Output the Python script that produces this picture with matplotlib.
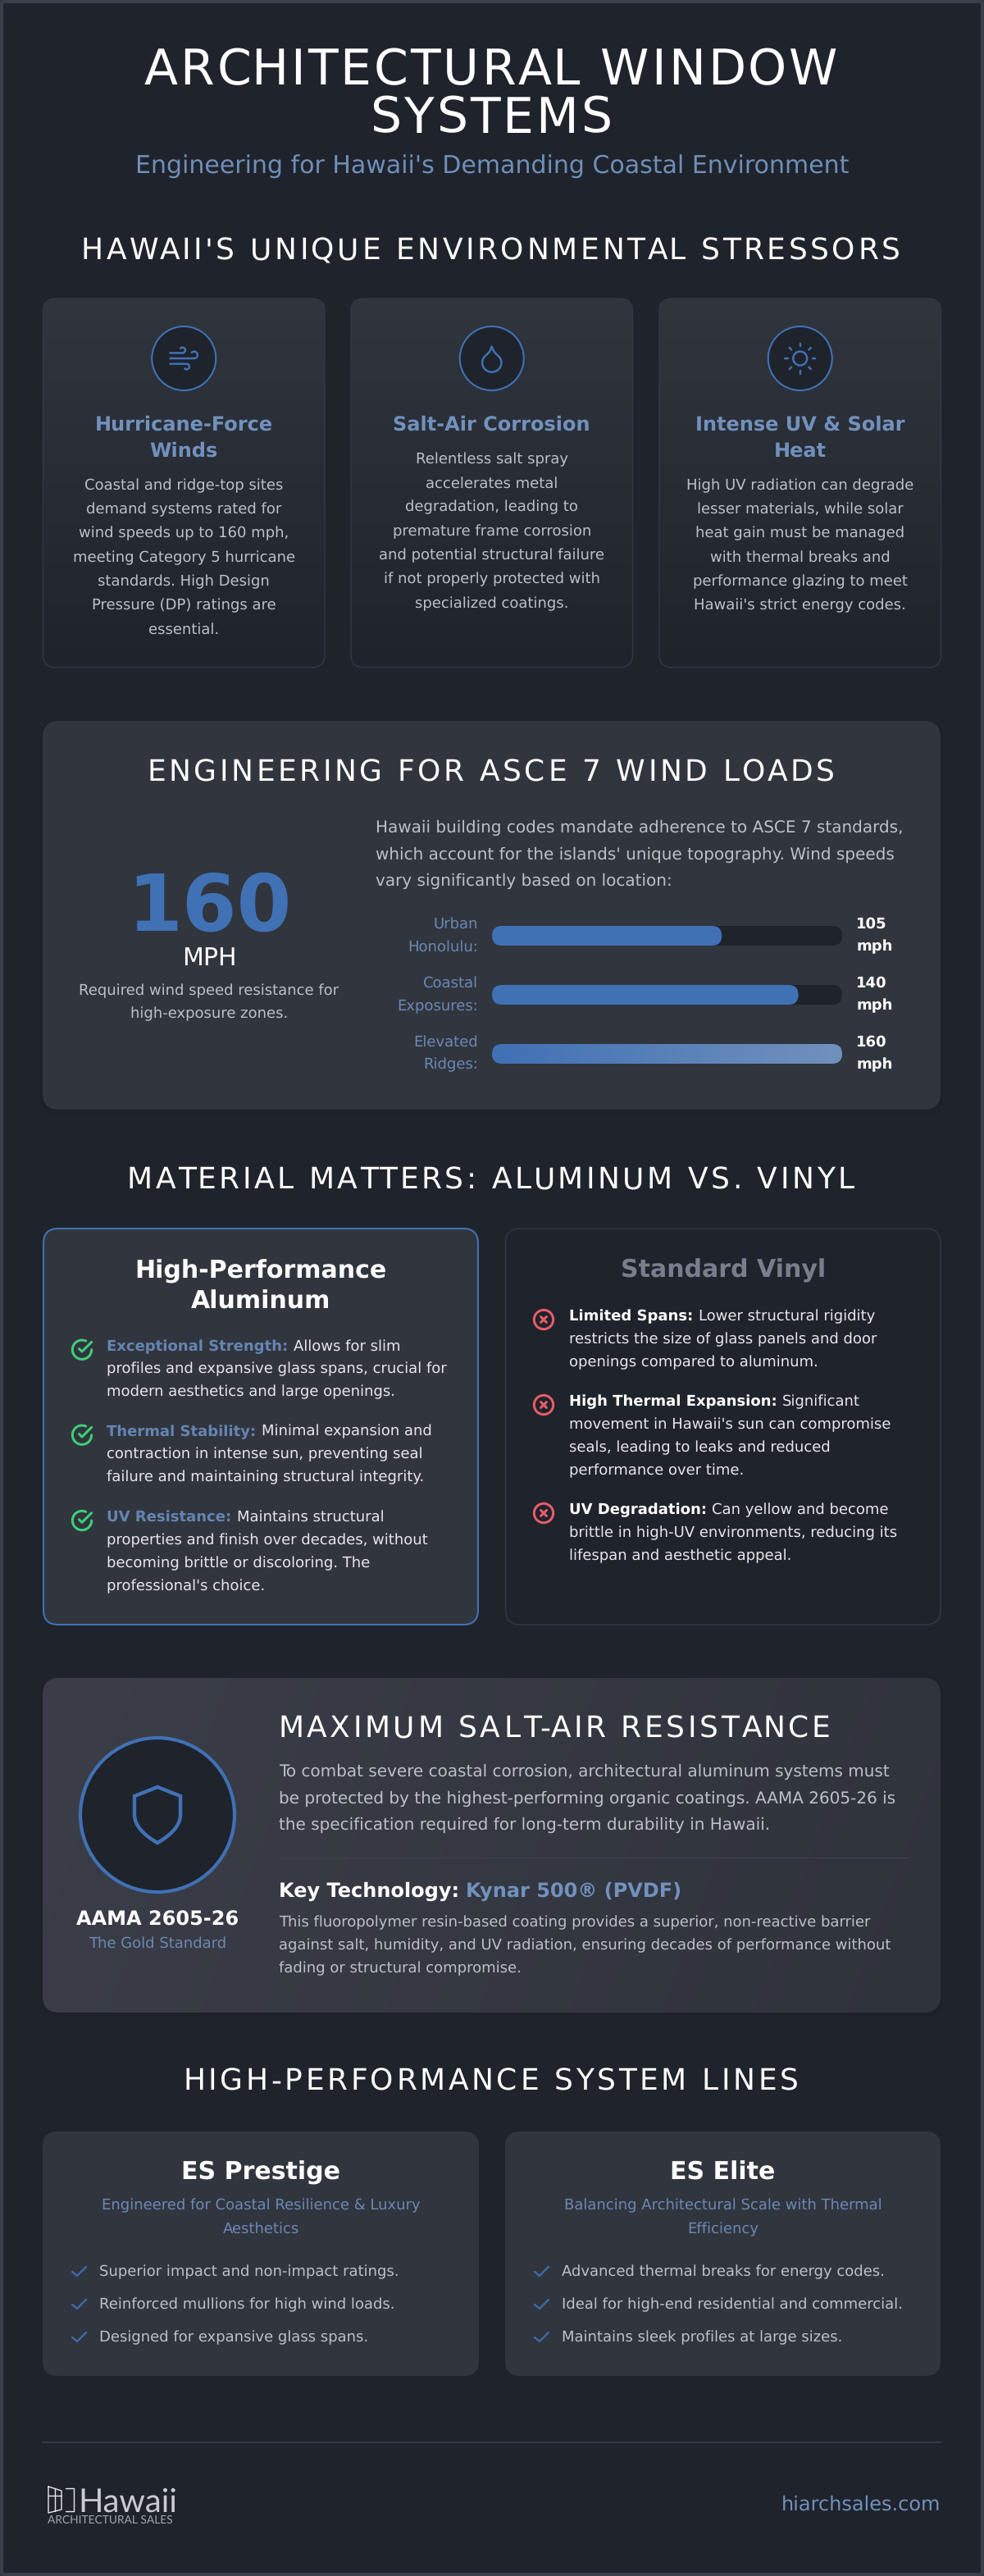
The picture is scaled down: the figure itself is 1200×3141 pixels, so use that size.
import numpy as np
import matplotlib
matplotlib.use('Agg')
import matplotlib.pyplot as plt
from matplotlib.font_manager import FontProperties, findfont, get_font
from matplotlib.ft2font import LoadFlags
from matplotlib.patches import Circle, FancyBboxPatch, PathPatch, Rectangle
from matplotlib.path import Path
from matplotlib.text import Text

# colours
BG = '#1f232b'
EDGE = '#3a3e49'
PANEL = '#31353e'
CARD_LINE = '#343842'
BLUE = '#4071b5'
LIGHT_BLUE = '#7191bd'
DIM_BLUE = '#6b88b3'
WHITE = '#ffffff'
BODY = '#bcc0c8'
NEAR_WHITE = '#e5e7eb'
GREEN = '#3ecf78'
RED = '#e85d69'

title_lines = ['ARCHITECTURAL WINDOW', 'SYSTEMS']
subtitle = "Engineering for Hawaii's Demanding Coastal Environment"
section_heads = ["HAWAII'S UNIQUE ENVIRONMENTAL STRESSORS", 'ENGINEERING FOR ASCE 7 WIND LOADS',
                 'MATERIAL MATTERS: ALUMINUM VS. VINYL', 'MAXIMUM SALT-AIR RESISTANCE',
                 'HIGH-PERFORMANCE SYSTEM LINES']

stressor_titles = [['Hurricane-Force', 'Winds'], ['Salt-Air Corrosion'], ['Intense UV & Solar', 'Heat']]
stressor_texts = [
    ['Coastal and ridge-top sites', 'demand systems rated for', 'wind speeds up to 160 mph,',
     'meeting Category 5 hurricane', 'standards. High Design', 'Pressure (DP) ratings are', 'essential.'],
    ['Relentless salt spray', 'accelerates metal', 'degradation, leading to', 'premature frame corrosion',
     'and potential structural failure', 'if not properly protected with', 'specialized coatings.'],
    ['High UV radiation can degrade', 'lesser materials, while solar', 'heat gain must be managed',
     'with thermal breaks and', 'performance glazing to meet', "Hawaii's strict energy codes."],
]

wind_intro = ['Hawaii building codes mandate adherence to ASCE 7 standards,',
              "which account for the islands' unique topography. Wind speeds",
              'vary significantly based on location:']
wind_big = '160'
wind_unit = 'MPH'
wind_note = ['Required wind speed resistance for', 'high-exposure zones.']
zones = [['Urban', 'Honolulu:'], ['Coastal', 'Exposures:'], ['Elevated', 'Ridges:']]
wind_speeds = [105, 140, 160]
wind_max = 160

alu_title = ['High-Performance', 'Aluminum']
alu_heads = ['Exceptional Strength:', 'Thermal Stability:', 'UV Resistance:']
alu_lines = [['Allows for slim', 'profiles and expansive glass spans, crucial for', 'modern aesthetics and large openings.'],
             ['Minimal expansion and', 'contraction in intense sun, preventing seal', 'failure and maintaining structural integrity.'],
             ['Maintains structural', 'properties and finish over decades, without', 'becoming brittle or discoloring. The', "professional's choice."]]
vinyl_title = 'Standard Vinyl'
vinyl_heads = ['Limited Spans:', 'High Thermal Expansion:', 'UV Degradation:']
vinyl_lines = [['Lower structural rigidity', 'restricts the size of glass panels and door', 'openings compared to aluminum.'],
               ['Significant', "movement in Hawaii's sun can compromise", 'seals, leading to leaks and reduced', 'performance over time.'],
               ['Can yellow and become', 'brittle in high-UV environments, reducing its', 'lifespan and aesthetic appeal.']]

salt_intro = ['To combat severe coastal corrosion, architectural aluminum systems must',
              'be protected by the highest-performing organic coatings. AAMA 2605-26 is',
              'the specification required for long-term durability in Hawaii.']
salt_text = ['This fluoropolymer resin-based coating provides a superior, non-reactive barrier',
             'against salt, humidity, and UV radiation, ensuring decades of performance without',
             'fading or structural compromise.']

line_names = ['ES Prestige', 'ES Elite']
line_subs = [['Engineered for Coastal Resilience & Luxury', 'Aesthetics'],
             ['Balancing Architectural Scale with Thermal', 'Efficiency']]
line_items = [['Superior impact and non-impact ratings.', 'Reinforced mullions for high wind loads.', 'Designed for expansive glass spans.'],
              ['Advanced thermal breaks for energy codes.', 'Ideal for high-end residential and commercial.', 'Maintains sleek profiles at large sizes.']]

plt.rcParams['font.family'] = ['DejaVu Sans']
plt.rcParams['text.hinting'] = 'no_hinting'

fig = plt.figure(figsize=(12, 31.41), dpi=100, facecolor=EDGE)
ax = fig.add_axes([0, 0, 1, 1])
ax.set_xlim(0, 1200)
ax.set_ylim(3141, 0)
ax.axis('off')


def text_w(s, px, weight='normal', family='DejaVu Sans'):
    # advance width of s in pixels, the | keeps trailing spaces counted
    font = get_font(findfont(FontProperties(family=family, weight=weight)))
    font.set_size(px * 0.72, 100)
    font.set_text(s + '|', 0.0, flags=LoadFlags.NO_HINTING)
    w = font.get_width_height()[0] / 64
    font.set_text('|', 0.0, flags=LoadFlags.NO_HINTING)
    return w - font.get_width_height()[0] / 64


class SpacedText(Text):
    # keeps the whole string but draws it with css style letter spacing
    def __init__(self, x, y, s, px, spacing, ha='center', **kw):
        super().__init__(x, y, s, fontsize=px * 0.72, va='baseline', ha=ha, **kw)
        self.px = px
        self.spacing = spacing

    def get_window_extent(self, renderer=None, dpi=None):
        # the drawn run is wider than the plain string
        bb = super().get_window_extent(renderer, dpi)
        extra = self.spacing * len(self.get_text())
        if self.get_ha() == 'center':
            return bb.expanded((bb.width + extra) / bb.width, 1)
        return matplotlib.transforms.Bbox.from_extents(bb.x0, bb.y0, bb.x1 + extra, bb.y1)

    def draw(self, renderer):
        s = self.get_text()
        total = text_w(s, self.px) + self.spacing * len(s)
        x0, y = self.get_position()
        if self.get_ha() == 'center':
            x0 -= total / 2
        for i, c in enumerate(s):
            if c == ' ':
                continue
            t = Text(x0 + text_w(s[:i], self.px) + i * self.spacing, y, c, fontproperties=self.get_fontproperties(),
                     color=self.get_color(), va='baseline', ha='left', transform=self.get_transform())
            t.set_figure(self.get_figure())
            t.draw(renderer)


def spaced(x, y, s, px, spacing, ha='center', color=WHITE):
    t = SpacedText(x, y, s, px, spacing, ha=ha, color=color, transform=ax.transData, zorder=6)
    t.set_figure(fig)
    ax.add_artist(t)


def put(x, y, s, px, color=BODY, weight='normal', ha='left', family=None):
    kw = {'family': family} if family else {}
    ax.text(x, y, s, fontsize=px * 0.72, color=color, weight=weight, ha=ha, va='baseline', zorder=6, **kw)


def lines_at(x, ys, rows, px, color=BODY, weight='normal', ha='center'):
    for y, row in zip(ys, rows):
        put(x, y, row, px, color, weight, ha)


def box(x0, y0, x1, y1, r=16, fc=PANEL, ec='none', lw=0.0, z=2):
    p = FancyBboxPatch((x0, y0), x1 - x0, y1 - y0, boxstyle='round,pad=0,rounding_size=%s' % r,
                       fc=fc, ec=ec, lw=lw, zorder=z)
    ax.add_patch(p)
    return p


def grad_box(x0, y0, x1, y1, c0, c1, angle=90, r=16, ec='none', lw=0.0, z=2):
    # css like linear gradient clipped to a rounded box
    clip = box(x0, y0, x1, y1, r=r, fc='none', ec=ec, lw=lw, z=z + 1)
    xx, yy = np.meshgrid(np.linspace(0, 1, 200), np.linspace(0, 1, 200))
    a = np.deg2rad(angle)
    d = np.cos(a) * xx * (x1 - x0) + np.sin(a) * yy * (y1 - y0)
    d = (d - d.min()) / (d.max() - d.min())
    rgb0, rgb1 = np.array(matplotlib.colors.to_rgb(c0)), np.array(matplotlib.colors.to_rgb(c1))
    img = rgb0[None, None, :] * (1 - d[..., None]) + rgb1[None, None, :] * d[..., None]
    im = ax.imshow(img, extent=(x0, x1, y1, y0), aspect='auto', zorder=z, interpolation='bilinear')
    im.set_clip_path(clip)
    ax.set_xlim(0, 1200)
    ax.set_ylim(3141, 0)


def shadow(x0, y0, x1, y1, r=16):
    for i, al in zip((6, 4, 2), (0.05, 0.07, 0.09)):
        box(x0 - i / 2, y0 + 1, x1 + i / 2, y1 + i, r=r + i / 2, fc=(0.08, 0.09, 0.12, al), z=1)


def stroke(pts, color=BLUE, lw=2.5, z=7):
    pts = np.asarray(pts)
    ax.plot(pts[:, 0], pts[:, 1], color=color, lw=lw * 0.72, solid_capstyle='round', solid_joinstyle='round', zorder=z)


def arc(cx, cy, r, a0, a1, n=40):
    t = np.deg2rad(np.linspace(a0, a1, n))
    return np.column_stack([cx + r * np.cos(t), cy + r * np.sin(t)])


def icon_pts(pts, cx, cy, s):
    # 24 unit icon grid into pixels
    return (np.asarray(pts, float) - 12) * s + [cx, cy]


def wind_icon(cx, cy):
    s = 40 / 24
    parts = [np.vstack([[2, 12], arc(19.5, 9.5, 2.5, 90, -135)]),
             np.vstack([[2, 8], arc(11, 6, 2, 90, -135)]),
             np.vstack([[2, 16], arc(14, 18, 2, -90, 135)])]
    for p in parts:
        stroke(icon_pts(p, cx, cy, s))


def drop_icon(cx, cy):
    s = 40 / 24
    verts = [(12, 22), (15.9, 22), (19, 18.9), (19, 15), (19, 13), (18, 11.1), (16, 9.5), (14, 7.9), (12.5, 5.5), (12, 3),
             (11.5, 5.5), (10, 7.9), (8, 9.5), (6, 11.1), (5, 13), (5, 15), (5, 18.9), (8.1, 22), (12, 22)]
    codes = [Path.MOVETO] + [Path.CURVE4] * 18
    ax.add_patch(PathPatch(Path(icon_pts(verts, cx, cy, s), codes), fc='none', ec=BLUE, lw=2.5 * 0.72, zorder=7))


def sun_icon(cx, cy):
    ax.add_patch(Circle((cx, cy), 8.5, fc='none', ec=BLUE, lw=2.5 * 0.72, zorder=7))
    for a in np.deg2rad(np.arange(0, 360, 45)):
        stroke([(cx + 15 * np.cos(a), cy + 15 * np.sin(a)), (cx + 18.5 * np.cos(a), cy + 18.5 * np.sin(a))])


def check_circle(cx, cy):
    s = 28 / 24
    stroke(icon_pts(arc(12, 12, 10, -66, -360), cx, cy, s), GREEN, 3)
    stroke(icon_pts([(22, 4), (12, 14.01), (9, 11.01)], cx, cy, s), GREEN, 3)


def x_circle(cx, cy):
    s = 28 / 24
    ax.add_patch(Circle((cx, cy), 10 * s, fc='none', ec=RED, lw=3 * 0.72, zorder=7))
    stroke(icon_pts([(15, 9), (9, 15)], cx, cy, s), RED, 3)
    stroke(icon_pts([(9, 9), (15, 15)], cx, cy, s), RED, 3)


# page
ax.add_patch(Rectangle((4, 4), 1192, 3133, fc=BG, ec='none', zorder=0))

# header
for y, row in zip([103, 161.5], title_lines):
    spaced(600, y, row, 60, 3.0)
put(600, 212, subtitle, 30, '#6f8fba', ha='center')

# stressor cards
spaced(600, 316, section_heads[0], 36, 3.6)
card_x = [52.5, 428, 804]
card_w = 343.5
icons = [wind_icon, drop_icon, sun_icon]
for i, x0 in enumerate(card_x):
    grad_box(x0, 364, x0 + card_w, 814, '#31353e', BG, r=16, ec=CARD_LINE, lw=1.0)
    cx = x0 + card_w / 2
    ax.add_patch(Circle((cx, 437), 39, fc=BG, ec=BLUE, lw=1.5, zorder=6))
    icons[i](cx, 437)
    ys = [525 + 32 * k for k in range(len(stressor_titles[i]))]
    lines_at(cx, ys, stressor_titles[i], 24, LIGHT_BLUE, 'bold')
    first = ys[-1] + 40
    lines_at(cx, [first + 29.3 * k for k in range(len(stressor_texts[i]))], stressor_texts[i], 18, BODY)

# wind load panel
shadow(52, 879, 1147, 1353)
box(52, 879, 1147, 1353, r=20)
spaced(600, 952.5, section_heads[1], 36, 3.6)
lines_at(458, [1015, 1047.5, 1080], wind_intro, 20, BODY, ha='left')
put(255, 1135, wind_big, 96, BLUE, 'bold', ha='center')
put(255, 1177, wind_unit, 30, WHITE, ha='center')
lines_at(255, [1213, 1241.5], wind_note, 18, BODY)
bar_x0, bar_w = 600, 427
for i, (zone, v) in enumerate(zip(zones, wind_speeds)):
    y = 1129 + 72 * i
    lines_at(583, [y + 2.5, y + 30.5], zone, 18, DIM_BLUE, ha='right')
    box(bar_x0, y, bar_x0 + bar_w, y + 24, r=12, fc=BG, z=3)
    w = bar_w * v / wind_max
    if v == wind_max:
        grad_box(bar_x0, y, bar_x0 + w, y + 24, BLUE, LIGHT_BLUE, angle=0, r=12, z=4)
    else:
        box(bar_x0, y, bar_x0 + w, y + 24, r=12, fc=BLUE, z=4)
    put(1044, y + 2.5, str(v), 18, WHITE, 'bold')
    put(1044, y + 30.5, 'mph', 18, WHITE, 'bold')

# materials
spaced(600, 1449, section_heads[2], 36, 3.6)
box(53, 1498, 583, 1981, r=18, fc=PANEL, ec=BLUE, lw=1.5)
lines_at(318, [1559, 1596], alu_title, 30, WHITE, 'bold')
alu_y = [1646.7, 1750.7, 1855]
for y, head, rows in zip(alu_y, alu_heads, alu_lines):
    check_circle(100, y - 1)
    put(130.5, y, head, 18, '#6485b2', 'bold')
    put(130.5 + text_w(head + ' ', 18, 'bold'), y, rows[0], 18, NEAR_WHITE)
    lines_at(130.5, [y + 28 * (k + 1) for k in range(len(rows) - 1)], rows[1:], 18, NEAR_WHITE, ha='left')

box(616.5, 1498, 1147, 1981, r=18, fc=BG, ec=CARD_LINE, lw=1.0)
put(882, 1558, vinyl_title, 30, '#787e8c', 'bold', ha='center')
vinyl_y = [1610, 1714, 1846]
for y, head, rows in zip(vinyl_y, vinyl_heads, vinyl_lines):
    x_circle(663, y - 1)
    put(694, y, head, 18, WHITE, 'bold')
    put(694 + text_w(head + ' ', 18, 'bold'), y, rows[0], 18, NEAR_WHITE)
    lines_at(694, [y + 28 * (k + 1) for k in range(len(rows) - 1)], rows[1:], 18, NEAR_WHITE, ha='left')

# coating panel
shadow(52, 2046, 1147, 2454)
grad_box(52, 2046, 1147, 2454, '#3b3e48', '#2f333c', angle=20, r=20)
ax.add_patch(Circle((192, 2213), 94, fc=BG, ec=BLUE, lw=3, zorder=6))
shield = [(192, 2179), (220, 2190), (220, 2213), (220, 2226), (208, 2238), (192, 2247),
          (176, 2238), (164, 2226), (164, 2213), (164, 2190), (192, 2179)]
shield_codes = [Path.MOVETO, Path.LINETO, Path.LINETO, Path.CURVE4, Path.CURVE4, Path.CURVE4,
                Path.CURVE4, Path.CURVE4, Path.CURVE4, Path.LINETO, Path.CLOSEPOLY]
ax.add_patch(PathPatch(Path(shield, shield_codes), fc='none', ec=BLUE, lw=3.2, zorder=7))
put(192, 2348, 'AAMA 2605-26', 24, WHITE, 'bold', ha='center')
put(192, 2375, 'The Gold Standard', 18, DIM_BLUE, ha='center')
spaced(339, 2118, section_heads[3], 36, 3.6, ha='left')
lines_at(340, [2166, 2198.5, 2231], salt_intro, 20, BODY, ha='left')
ax.plot([340, 1108], [2265, 2265], color='#3e424c', lw=0.8, zorder=6)
put(340, 2313, 'Key Technology:', 24, WHITE, 'bold')
put(340 + text_w('Key Technology: ', 24, 'bold'), 2313, 'Kynar 500® (PVDF)', 24, LIGHT_BLUE, 'bold')
lines_at(340, [2349, 2377, 2405], salt_text, 18, BODY, ha='left')

# system lines
spaced(600, 2548, section_heads[4], 36, 3.6)
for x0, x1, name, subs, items in zip((52, 616), (584, 1147), line_names, line_subs, line_items):
    cx = (x0 + x1) / 2
    box(x0, 2599, x1, 2897, r=18)
    put(cx, 2658, name, 30, WHITE, 'bold', ha='center')
    lines_at(cx, [2694.5, 2723], subs, 18, DIM_BLUE)
    for y, item in zip((2775, 2815, 2855), items):
        stroke([(x0 + 36, y - 5), (x0 + 42, y), (x0 + 53, y - 11)], '#3d6aa8', 2.4)
        put(x0 + 69, y, item, 18, BODY)

# footer
ax.plot([52, 1147], [2978, 2978], color='#363a45', lw=1.5, zorder=3)
stroke([(59, 3032), (75, 3037), (75, 3060), (59, 3064), (59, 3032)], '#e5e7eb', 1.4)
stroke([(59, 3043), (75, 3043)], '#e5e7eb', 1.4)
stroke([(67, 3034), (67, 3062)], '#e5e7eb', 1.4)
stroke([(80, 3034), (90, 3034), (90, 3062), (80, 3062)], '#e5e7eb', 1.4)
put(95, 3063, 'Hawaii', 40, '#c8ccd2', family='Lato')
put(58, 3077, 'ARCHITECTURAL SALES', 13.8, '#a0a4ac', family='Lato')
put(1147, 3061, 'hiarchsales.com', 24, LIGHT_BLUE, ha='right')

plt.savefig('out.png', dpi=100, facecolor=EDGE)
